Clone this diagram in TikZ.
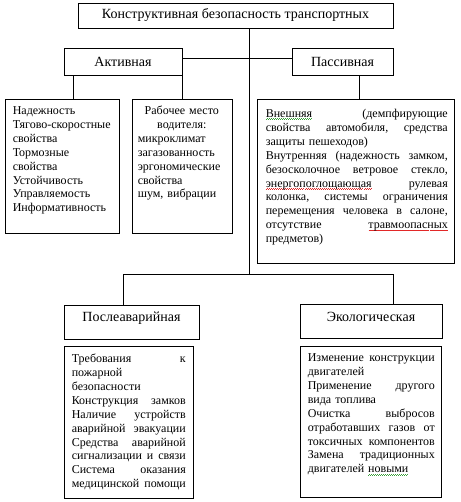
\documentclass[tikz,border=0pt]{standalone}
\usepackage{fontspec}
\setmainfont{Liberation Serif}
\usepackage{xcolor}
\definecolor{spellred}{RGB}{226,40,40}
\definecolor{spellgreen}{RGB}{60,160,60}
\newsavebox\wvbox
\newcommand\wavy[2]{{\sbox\wvbox{#2}\leavevmode\rlap{\textcolor{#1}{\hbox to \wd\wvbox{\xleaders\hbox{\rule[-2.4bp]{1bp}{0.7bp}\rule[-1.6bp]{1bp}{0.7bp}}\hfill}}}\usebox\wvbox}}
\newcommand\jl[1]{\leavevmode\hbox to \hsize{#1}}
\newcommand\cl[1]{\leavevmode\hbox to \hsize{\hfil #1\hfil}}
\newcommand\hf{\hfill}
\tikzset{
  hdr/.style={draw, line width=0.8bp, font=\fontsize{14bp}{16bp}\selectfont, inner sep=0pt},
  dbox/.style={draw, line width=0.8bp, inner sep=0pt},
  dtext/.style={font=\fontsize{12bp}{13.9bp}\selectfont, inner sep=0pt, anchor=base west, align=left},
  conn/.style={line width=0.8bp}
}
\begin{document}
\begin{tikzpicture}[x=1bp,y=-1bp]
\useasboundingbox[fill=white] (0,0) rectangle (461,502);
% headers
\node[hdr, minimum width=315bp, minimum height=25bp] (top) at (235.5,15.5) {Конструктивная безопасность транспортных};
\node[hdr, minimum width=118bp, minimum height=27bp] (akt) at (123,61.5) {Активная};
\node[hdr, minimum width=101bp, minimum height=27bp] (pas) at (342.5,61.5) {Пассивная};
\node[hdr, minimum width=135bp, minimum height=34bp] (pos) at (131.5,322) {\raisebox{4bp}[\height][\depth]{Послеаварийная}};
\node[hdr, minimum width=142bp, minimum height=34bp] (eco) at (371,321) {\raisebox{4bp}[\height][\depth]{Экологическая}};
% detail boxes
\node[dbox, minimum width=114bp, minimum height=134bp] (a1) at (62,166) {};
\node[dbox, minimum width=100bp, minimum height=134bp] (a2) at (182,166) {};
\node[dbox, minimum width=197bp, minimum height=164bp] (p1) at (355.5,181) {};
\node[dbox, minimum width=129bp, minimum height=152bp] (d1) at (128.5,422) {};
\node[dbox, minimum width=141bp, minimum height=151bp] (e1) at (370.5,421.5) {};
% texts
\node[dtext, text width=104bp] (a1t) at ([xshift=8bp,yshift=-16bp]a1.north west) {Надежность\\Тягово-скоростные\\свойства\\Тормозные\\свойства\\Устойчивость\\Управляемость\\Информативность};
\node[dtext, text width=88bp] (a2t) at ([xshift=6bp,yshift=-16bp]a2.north west) {\cl{Рабочее место}\\\cl{водителя:}\\микроклимат\\загазованность\\эргономические\\свойства\\шум, вибрации};
\node[dtext, text width=182bp] (p1t) at ([xshift=9bp,yshift=-19bp]p1.north west) {\jl{\wavy{spellgreen}{Внешняя}\hf (демпфирующие}\\\jl{свойства\hf автомобиля,\hf средства}\\защиты пешеходов)\\\jl{Внутренняя\hf (надежность\hf замком,}\\\jl{безосколочное\hf ветровое\hf стекло,}\\\jl{\wavy{spellred}{энергопоглощающая}\hf рулевая}\\\jl{колонка,\hf системы\hf ограничения}\\\jl{перемещения\hf человека\hf в\hf салоне,}\\\jl{отсутствие\hf \wavy{spellred}{травмоопасных}}\\предметов)};
\node[dtext, text width=114bp] (d1t) at ([xshift=8bp,yshift=-17bp]d1.north west) {\jl{Требования\hf к}\\пожарной\\безопасности\\\jl{Конструкция\hf замков}\\\jl{Наличие\hf устройств}\\\jl{аварийной\hf эвакуации}\\\jl{Средства\hf аварийной}\\\jl{сигнализации\hf и\hf связи}\\\jl{Система\hf оказания}\\\jl{медицинской\hf помощи}};
\node[dtext, text width=127bp] (e1t) at ([xshift=8bp,yshift=-16bp]e1.north west) {\jl{Изменение\hf конструкции}\\двигателей\\\jl{Применение\hf другого}\\вида топлива\\\jl{Очистка\hf выбросов}\\\jl{отработавших\hf газов\hf от}\\\jl{токсичных\hf компонентов}\\\jl{Замена\hf традиционных}\\двигателей \wavy{spellgreen}{новыми}};
% connectors
\coordinate (jn) at (249,274);
\coordinate (jl) at (123,274);
\coordinate (jr) at (393,274);
\coordinate (hl) at (0,58);
\coordinate (ax) at (73,0);
\coordinate (px) at (359,0);
\draw[conn] (top.south -| jn) -- (jn);
\draw[conn] (akt.east |- hl) -- (pas.west |- hl);
\draw[conn] (akt.south -| ax) -- (a1.north -| ax);
\draw[conn] (akt.south -| a2.north) -- (a2.north);
\draw[conn] (pas.south -| px) -- (p1.north -| px);
\draw[conn] (pos.north -| jl) -- (jl) -- (jr) -- (eco.north -| jr);
\end{tikzpicture}
\end{document}
